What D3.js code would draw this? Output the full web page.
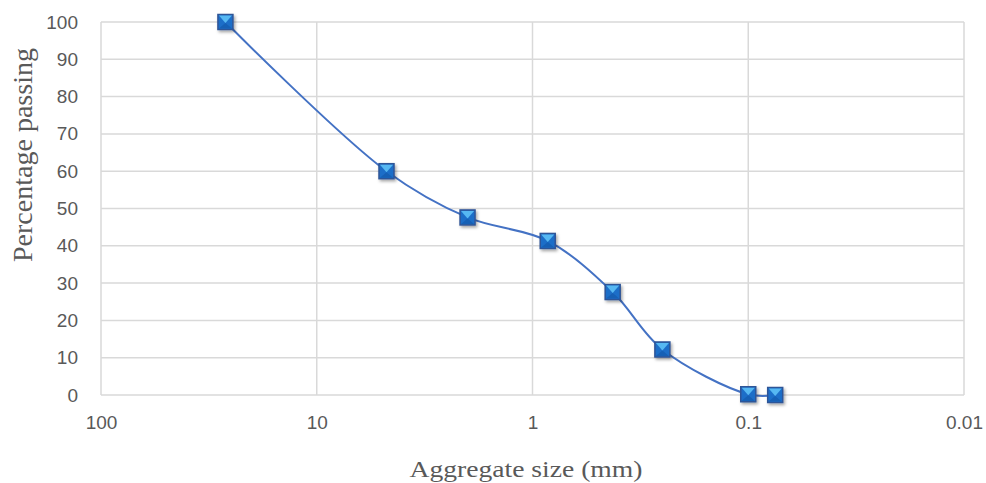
<!DOCTYPE html>
<html>
<head>
<meta charset="utf-8">
<script src="https://cdn.jsdelivr.net/npm/d3@7"></script>
<style>
  body { margin: 0; background: #fff; }
  .tick text { font-family: "Liberation Sans", "Open Sans", sans-serif; fill: #595959; }
</style>
</head>
<body>
<div id="chart"></div>
<script>
const sizes = [26.5, 4.75, 2, 0.85, 0.425, 0.25, 0.1, 0.075];
const passing = [100, 60, 47.6, 41.3, 27.6, 12.2, 0.2, 0];
const xTicks = [100, 10, 1, 0.1, 0.01];
const yTicks = [0, 10, 20, 30, 40, 50, 60, 70, 80, 90, 100];

(() => {
    const width = 986, height = 483, margin = { top: 22, right: 22, bottom: 88, left: 101 };
    const innerW = width - margin.left - margin.right, innerH = height - margin.top - margin.bottom;

    const data = sizes.map((s, i) => ({ size: s, pass: passing[i] }));

    const svg = d3.select("#chart").append("svg")
        .attr("width", width)
        .attr("height", height);

    const defs = svg.append("defs");
    const f = defs.append("filter").attr("id", "shadow").attr("x", "-50%").attr("y", "-50%").attr("width", "200%").attr("height", "200%");
    f.append("feDropShadow").attr("dx", 1.5).attr("dy", 2).attr("stdDeviation", 1.5).attr("flood-color", "#000").attr("flood-opacity", 0.35);

    const chart = svg.append("g").attr("transform", `translate(${margin.left},${margin.top})`);

    const x = d3.scaleLog().domain([100, 0.01]).range([0, innerW]);
    const y = d3.scaleLinear().domain([0, 100]).range([innerH, 0]);

    // gridlines
    chart.append("g").selectAll("line").data(yTicks).join("line")
        .attr("x1", 0).attr("x2", innerW)
        .attr("y1", d => y(d)).attr("y2", d => y(d))
        .attr("stroke", "#d9d9d9").attr("stroke-width", 1.5);
    chart.append("g").selectAll("line").data(xTicks).join("line")
        .attr("x1", d => x(d)).attr("x2", d => x(d))
        .attr("y1", 0).attr("y2", innerH)
        .attr("stroke", "#d9d9d9").attr("stroke-width", 1.5);

    chart.append("g")
        .attr("transform", `translate(0,${innerH})`)
        .call(d3.axisBottom(x).tickValues(xTicks).tickFormat(d => String(d)).tickSize(0).tickPadding(21))
        .call(g => g.select(".domain").remove())
        .selectAll("text").style("font-size", "19px");

    chart.append("g")
        .call(d3.axisLeft(y).tickValues(yTicks).tickSize(0).tickPadding(23))
        .call(g => g.select(".domain").remove())
        .selectAll("text").style("font-size", "19px");

    // smoothed line
    const line = d3.line()
        .x(d => x(d.size))
        .y(d => y(d.pass))
        .curve(d3.curveCatmullRom.alpha(0.5));

    chart.append("path")
        .datum(data)
        .attr("fill", "none")
        .attr("stroke", "#4472c4")
        .attr("stroke-width", 2)
        .attr("d", line);

    // bevelled square markers
    const s = 7.5;
    const m = chart.append("g").selectAll("g").data(data).join("g")
        .attr("transform", d => `translate(${x(d.size)},${y(d.pass)})`)
        .attr("filter", "url(#shadow)");
    m.append("rect")
        .attr("x", -s).attr("y", -s).attr("width", 2 * s).attr("height", 2 * s)
        .attr("fill", "#1e6ec8").attr("stroke", "#2f5597").attr("stroke-width", 1.5);
    m.append("path")
        .attr("d", `M${-s + 1},${-s + 1}L${s - 1},${-s + 1}L0,1Z`)
        .attr("fill", "#56b8f2");
    m.append("path")
        .attr("d", `M${-s + 1},${s - 1}L${s - 1},${s - 1}L0,1Z`)
        .attr("fill", "#1560b5");

    svg.append("text")
        .attr("x", 526)
        .attr("y", 477)
        .attr("text-anchor", "middle")
        .attr("textLength", 233)
        .attr("lengthAdjust", "spacingAndGlyphs")
        .style("font-family", "Liberation Serif, Times New Roman, serif")
        .style("font-size", "23px")
        .style("fill", "#595959")
        .text("Aggregate size (mm)");

    svg.append("text")
        .attr("transform", "rotate(-90)")
        .attr("x", -155)
        .attr("y", 32)
        .attr("text-anchor", "middle")
        .attr("textLength", 214)
        .attr("lengthAdjust", "spacingAndGlyphs")
        .style("font-family", "Liberation Serif, Times New Roman, serif")
        .style("font-size", "27px")
        .style("fill", "#595959")
        .text("Percentage passing");
})();
</script>
</body>
</html>
